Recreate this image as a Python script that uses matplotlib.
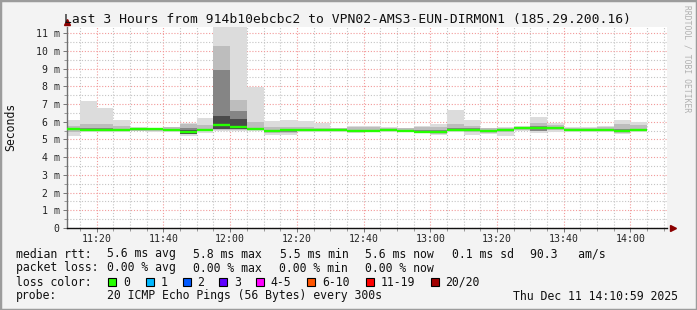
import pandas as pd
import matplotlib
matplotlib.use("Agg")
import matplotlib.pyplot as plt
import matplotlib.dates as mdates
from matplotlib.patches import Rectangle

# smokeping style graph, rtt in milliseconds, one bar per 5 min step
bar_start = pd.date_range("2025-12-11 11:10", periods=35, freq="5min")

median = [5.58, 5.53, 5.53, 5.53, 5.57, 5.58, 5.53, 5.43, 5.53, 5.81, 5.68, 5.58,
          5.47, 5.51, 5.53, 5.53, 5.53, 5.49, 5.49, 5.53, 5.49, 5.43, 5.40, 5.53,
          5.53, 5.47, 5.53, 5.62, 5.66, 5.66, 5.53, 5.53, 5.53, 5.49, 5.53]
rtt_max = [6.09, 7.18, 6.79, 6.09, 5.71, 5.66, 5.71, 5.94, 6.22, 11.6, 11.6, 7.97,
           6.03, 6.09, 6.06, 5.94, 5.66, 5.75, 5.77, 5.71, 5.66, 5.77, 5.85, 6.66,
           6.09, 5.66, 5.68, 5.77, 6.28, 5.94, 5.71, 5.71, 5.75, 6.09, 5.96]
rtt_min = [5.21, 5.40, 5.40, 5.43, 5.47, 5.43, 5.40, 5.21, 5.34, 5.47, 5.47, 5.47,
           5.25, 5.25, 5.40, 5.43, 5.43, 5.34, 5.40, 5.43, 5.40, 5.34, 5.25, 5.40,
           5.25, 5.30, 5.21, 5.47, 5.34, 5.40, 5.43, 5.43, 5.43, 5.30, 5.43]
mid_hi = [5.75, 5.85, 5.85, 5.75, 5.65, 5.66, 5.68, 5.90, 5.80, 10.30, 7.20, 6.00,
          5.70, 5.70, 5.68, 5.66, 5.62, 5.68, 5.70, 5.65, 5.62, 5.70, 5.70, 5.90,
          5.75, 5.62, 5.62, 5.72, 5.95, 5.80, 5.66, 5.64, 5.68, 5.85, 5.82]
mid_lo = [5.40, 5.45, 5.45, 5.47, 5.50, 5.50, 5.45, 5.30, 5.45, 5.55, 5.55, 5.52,
          5.35, 5.38, 5.47, 5.47, 5.47, 5.42, 5.43, 5.47, 5.43, 5.38, 5.32, 5.45,
          5.40, 5.38, 5.40, 5.55, 5.45, 5.55, 5.47, 5.47, 5.47, 5.38, 5.47]
core_hi = [5.66, 5.65, 5.62, 5.60, 5.60, 5.63, 5.60, 5.62, 5.60, 8.90, 6.60, 5.65,
           5.55, 5.58, 5.58, 5.58, 5.57, 5.55, 5.55, 5.57, 5.55, 5.52, 5.52, 5.62,
           5.62, 5.52, 5.58, 5.68, 5.75, 5.70, 5.57, 5.57, 5.58, 5.60, 5.60]
core_lo = [5.52, 5.48, 5.48, 5.50, 5.53, 5.53, 5.48, 5.36, 5.48, 5.62, 5.60, 5.54,
           5.40, 5.44, 5.48, 5.49, 5.49, 5.44, 5.45, 5.49, 5.45, 5.38, 5.35, 5.48,
           5.45, 5.42, 5.45, 5.57, 5.50, 5.58, 5.49, 5.49, 5.49, 5.42, 5.49]
deep_hi = [5.63, 5.58, 5.58, 5.58, 5.62, 5.63, 5.58, 5.52, 5.58, 6.35, 6.15, 5.63,
           5.52, 5.56, 5.58, 5.58, 5.58, 5.54, 5.54, 5.58, 5.54, 5.48, 5.46, 5.58,
           5.58, 5.52, 5.58, 5.67, 5.71, 5.71, 5.58, 5.58, 5.58, 5.54, 5.58]
deep_lo = [5.53, 5.48, 5.48, 5.48, 5.52, 5.53, 5.48, 5.33, 5.48, 5.60, 5.60, 5.53,
           5.42, 5.46, 5.48, 5.48, 5.48, 5.44, 5.44, 5.48, 5.44, 5.38, 5.34, 5.48,
           5.47, 5.42, 5.48, 5.57, 5.58, 5.61, 5.48, 5.48, 5.48, 5.43, 5.48]

loss_labels = ["0", "1", "2", "3", "4-5", "6-10", "11-19", "20/20"]
loss_colors = ["#26ff00", "#00b8ff", "#0059ff", "#5e00ff", "#ff00ff", "#ff5500", "#ff0000", "#a00000"]

title = "Last 3 Hours from 914b10ebcbc2 to VPN02-AMS3-EUN-DIRMON1 (185.29.200.16)"

W, H = 697, 310
mono = "DejaVu Sans Mono"
bg = "#f3f3f3"

fig = plt.figure(figsize=(W / 100, H / 100), dpi=100, facecolor=bg)

def px(x, y):
    # pixel coords -> figure fraction
    return x / W, 1 - y / H

ax = fig.add_axes([66.7 / W, 1 - 228 / H, (667 - 66.7) / W, (228 - 27) / H])
ax.set_facecolor("white")

width = 5 / 1440.0
xs = mdates.date2num(bar_start)

# smoke bands, outer to inner
for lo, hi, col in [(rtt_min, rtt_max, "#dcdcdc"), (mid_lo, mid_hi, "#bdbdbd"),
                    (core_lo, core_hi, "#858585"), (deep_lo, deep_hi, "#4a4a4a")]:
    heights = [h - l for l, h in zip(lo, hi)]
    ax.bar(xs, heights, bottom=lo, width=width, align="edge", color=col, linewidth=0, zorder=2)

ax.hlines(median, xs, xs + width, color=loss_colors[0], linewidth=1.7, zorder=4)

t_start = pd.Timestamp("2025-12-11 11:10:59")
t_end = pd.Timestamp("2025-12-11 14:10:59")
ax.set_xlim(mdates.date2num(t_start), mdates.date2num(t_end))
ax.set_ylim(0, 11.35)

ax.xaxis.set_major_locator(mdates.MinuteLocator(byminute=[0, 20, 40]))
ax.xaxis.set_minor_locator(mdates.MinuteLocator(byminute=range(0, 60, 5)))
ax.xaxis.set_major_formatter(mdates.DateFormatter("%H:%M"))
ax.set_yticks(range(0, 12))
ax.set_yticks([i + 0.5 for i in range(0, 11)], minor=True)
ax.set_yticklabels(["0"] + ["%d m" % i for i in range(1, 12)])

for lab in ax.get_xticklabels() + ax.get_yticklabels():
    lab.set_fontfamily(mono)
    lab.set_fontsize(7.1)
    lab.set_color("#222222")

ax.tick_params(axis="both", which="major", length=3, width=0.7, color="#777777", pad=2)
ax.tick_params(axis="both", which="minor", length=2, width=0.7, color="#999999")
ax.tick_params(axis="x", pad=1.5)

# rrdtool-style dotted grid
ax.grid(which="minor", color="#c4c4c4", linestyle=(0, (1, 1.6)), linewidth=0.8)
ax.grid(which="major", color="#f29a9a", linestyle=(0, (1, 1.6)), linewidth=0.8)
for gl in ax.get_xgridlines() + ax.get_ygridlines():
    gl.set_zorder(3)
for tick in ax.xaxis.get_minor_ticks() + ax.yaxis.get_minor_ticks():
    tick.gridline.set_zorder(3)

for side in ["top", "right"]:
    ax.spines[side].set_visible(False)
ax.spines["left"].set_color("#707070")
ax.spines["bottom"].set_color("#111111")
ax.spines["left"].set_linewidth(1.0)
ax.spines["bottom"].set_linewidth(1.0)

# axis arrows
ax.plot([0], [1.025], marker="^", color="#8b0000", markersize=5, transform=ax.transAxes, clip_on=False)
ax.plot([1.01], [0], marker=">", color="#8b0000", markersize=5, transform=ax.transAxes, clip_on=False)

fig.text(*px(347, 19), title, family=mono, fontsize=9.4, ha="center", va="center", color="#111111")
fig.text(*px(11, 127), "Seconds", family=mono, fontsize=8.3, rotation=90, ha="center", va="center", color="#111111")
fig.text(*px(687, 59), "RRDTOOL / TOBI OETIKER", family=mono, fontsize=5.8, rotation=270,
         ha="center", va="center", color="#b0b0b0")

lfs = 8.3
def ltext(x, y, s):
    fig.text(*px(x, y), s, family=mono, fontsize=lfs, ha="left", va="center", color="#111111")

ltext(16, 254, "median rtt:")
for x, s in [(107.3, "5.6 ms avg"), (193.3, "5.8 ms max"), (280, "5.5 ms min"),
             (365, "5.6 ms now"), (451.7, "0.1 ms sd"), (530, "90.3   am/s")]:
    ltext(x, 254, s)

ltext(16, 268, "packet loss:")
for x, s in [(107.3, "0.00 % avg"), (193.3, "0.00 % max"), (279.3, "0.00 % min"), (365, "0.00 % now")]:
    ltext(x, 268, s)

ltext(16, 282, "loss color:")
box_x = [108.3, 145.7, 182.7, 219.3, 256, 307.3, 365.7, 430.7]
for bx, lab, col in zip(box_x, loss_labels, loss_colors):
    fig.patches.append(Rectangle(px(bx, 286), 8 / W, 8 / H, transform=fig.transFigure,
                                 facecolor=col, edgecolor="black", linewidth=0.8))
    ltext(bx + 14.5, 282, lab)

ltext(16, 296, "probe:")
ltext(107.3, 296, "20 ICMP Echo Pings (56 Bytes) every 300s")
ltext(513.3, 296, "Thu Dec 11 14:10:59 2025")

# frame around the image
fig.patches.append(Rectangle((0, 0), 1, 1, transform=fig.transFigure, fill=False,
                             edgecolor="#9c9c9c", linewidth=2.5))

fig.savefig("out.png", dpi=100, facecolor=bg)
